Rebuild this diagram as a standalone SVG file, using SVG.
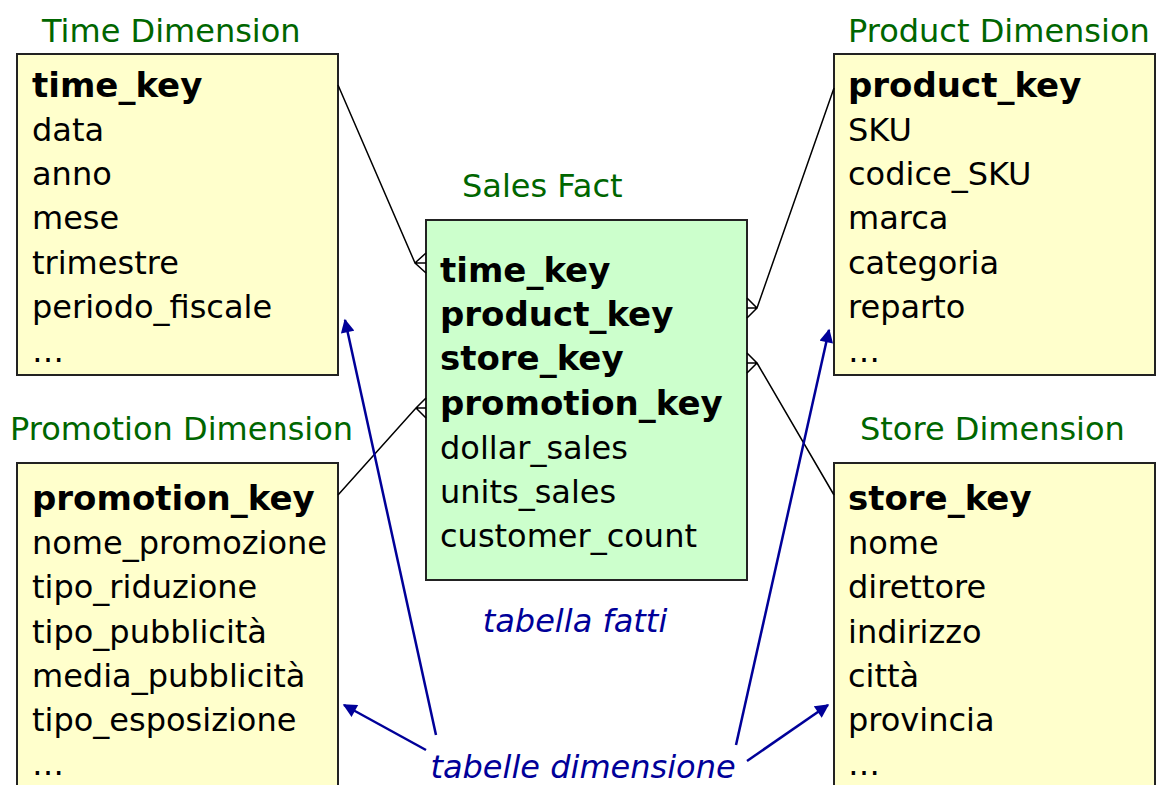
<svg xmlns="http://www.w3.org/2000/svg" width="1158" height="785" viewBox="0 0 1158 785">
<defs>
<style>
.box{fill:#FFFFCC;stroke:#222;stroke-width:2}
.fact{fill:#CCFFCC;stroke:#222;stroke-width:2}
text{font-family:"DejaVu Sans","Liberation Sans",sans-serif;font-size:32px;fill:#000}
.b{font-weight:bold;font-size:34px}
.title{fill:#006600}
.note{fill:#000099;font-style:italic}
.rel{stroke:#000;stroke-width:1.5;fill:none}
.arr{stroke:#000099;stroke-width:2.5;fill:none;marker-end:url(#ah)}
</style>
<marker id="ah" viewBox="0 0 10 10" refX="9" refY="5" markerWidth="6" markerHeight="5.5" orient="auto" markerUnits="strokeWidth">
<path d="M0,0 L10,5 L0,10 z" fill="#000099"/>
</marker>
</defs>
<rect width="1158" height="785" fill="#fff"/>

<g id="time-dim">
<text class="title" x="42" y="42">Time Dimension</text>
<rect class="box" x="17" y="54" width="321" height="321"/>
<text class="b" x="32" y="97">time_key</text>
<text x="32" y="141">data</text>
<text x="32" y="185">anno</text>
<text x="32" y="229">mese</text>
<text x="32" y="274">trimestre</text>
<text x="32" y="318">periodo_fiscale</text>
<text x="32" y="362">…</text>
</g>

<g id="product-dim">
<text class="title" x="848" y="42">Product Dimension</text>
<rect class="box" x="834" y="54" width="321" height="321"/>
<text class="b" x="848" y="97">product_key</text>
<text x="848" y="141">SKU</text>
<text x="848" y="185">codice_SKU</text>
<text x="848" y="229">marca</text>
<text x="848" y="274">categoria</text>
<text x="848" y="318">reparto</text>
<text x="848" y="362">…</text>
</g>

<g id="sales-fact">
<text class="title" x="462" y="197">Sales Fact</text>
<rect class="fact" x="426" y="220" width="321" height="360"/>
<text class="b" x="440" y="282">time_key</text>
<text class="b" x="440" y="326">product_key</text>
<text class="b" x="440" y="370">store_key</text>
<text class="b" x="440" y="415">promotion_key</text>
<text x="440" y="459">dollar_sales</text>
<text x="440" y="503">units_sales</text>
<text x="440" y="547">customer_count</text>
<text class="note" x="575" y="632" text-anchor="middle">tabella fatti</text>
</g>

<g id="promotion-dim">
<text class="title" x="10" y="440">Promotion Dimension</text>
<rect class="box" x="17" y="463" width="321" height="340"/>
<text class="b" x="32" y="510">promotion_key</text>
<text x="32" y="554">nome_promozione</text>
<text x="32" y="598">tipo_riduzione</text>
<text x="32" y="643">tipo_pubblicità</text>
<text x="32" y="687">media_pubblicità</text>
<text x="32" y="731">tipo_esposizione</text>
<text x="32" y="775">…</text>
</g>

<g id="store-dim">
<text class="title" x="860" y="440">Store Dimension</text>
<rect class="box" x="834" y="463" width="321" height="340"/>
<text class="b" x="848" y="510">store_key</text>
<text x="848" y="554">nome</text>
<text x="848" y="598">direttore</text>
<text x="848" y="643">indirizzo</text>
<text x="848" y="687">città</text>
<text x="848" y="731">provincia</text>
<text x="848" y="775">…</text>
</g>

<g id="connectors">
<path class="rel" d="M338,85 L415,263 M426,253 L415,263 L426,273 M415,263 L426,263"/>
<path class="rel" d="M338,495 L416,408 M426,398 L416,408 L426,418 M416,408 L426,408"/>
<path class="rel" d="M834,88 L757,308 M747,298 L757,308 L747,318 M757,308 L747,308"/>
<path class="rel" d="M834,495 L757,363 M747,353 L757,363 L747,373 M757,363 L747,363"/>
<line class="arr" x1="436" y1="735" x2="345" y2="320"/>
<line class="arr" x1="426" y1="750" x2="344" y2="705"/>
<line class="arr" x1="736" y1="745" x2="829" y2="330"/>
<line class="arr" x1="747" y1="761" x2="828" y2="705"/>
</g>

<g id="label-dim">
<text class="note" x="583" y="778" text-anchor="middle">tabelle dimensione</text>
</g>
</svg>
